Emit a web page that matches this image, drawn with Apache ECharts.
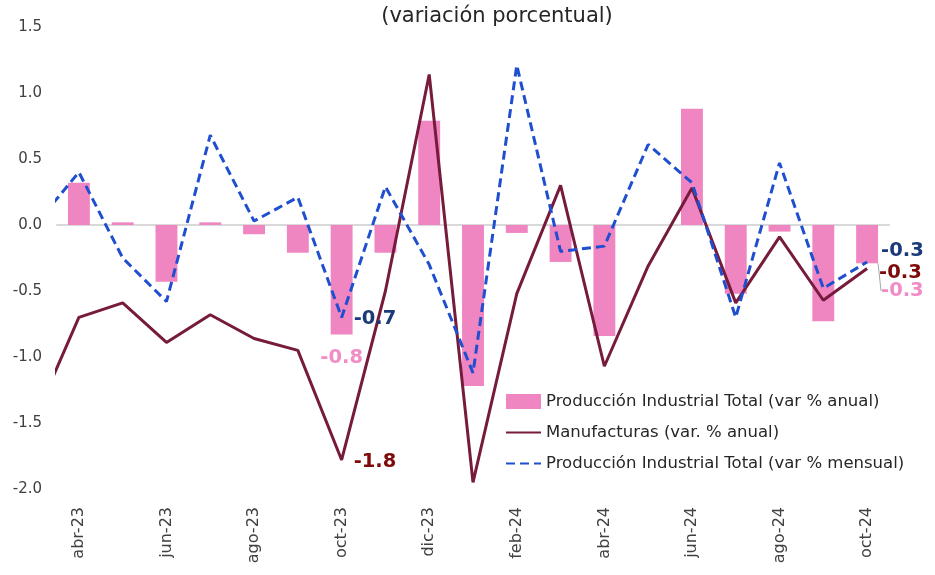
<!DOCTYPE html>
<html>
<head>
<meta charset="utf-8">
<script src="https://cdn.jsdelivr.net/npm/echarts@6/dist/echarts.min.js"></script>
<style>
  html, body { margin: 0; padding: 0; background: #fff; }
  #chart { width: 935px; height: 575px; }
</style>
</head>
<body>
<div id="chart"></div>
<script>
// meses: mar-23 solo sirve para el tramo inicial de las lineas (queda recortado)
const months = ["mar-23", "abr-23", "may-23", "jun-23", "jul-23", "ago-23", "sep-23", "oct-23", "nov-23", "dic-23",
    "ene-24", "feb-24", "mar-24", "abr-24", "may-24", "jun-24", "jul-24", "ago-24", "sep-24", "oct-24"];
const barMonths = months.slice(1);

// Produccion Industrial Total (var % anual), abr-23 .. oct-24
const totalAnual = [0.32, 0.02, -0.43, 0.02, -0.07, -0.21, -0.83, -0.21, 0.79, -1.22,
    -0.06, -0.28, -0.84, 0.0, 0.88, -0.52, -0.05, -0.73, -0.29];
// Manufacturas (var. % anual), mar-23 .. oct-24
const manufacturas = [-1.46, -0.70, -0.59, -0.89, -0.68, -0.86, -0.95, -1.78, -0.50, 1.14,
    -1.95, -0.52, 0.30, -1.07, -0.31, 0.28, -0.59, -0.09, -0.57, -0.33];
// Produccion Industrial Total (var % mensual), mar-23 .. oct-24
const totalMensual = [0.00, 0.40, -0.25, -0.58, 0.68, 0.03, 0.21, -0.70, 0.29, -0.30,
    -1.12, 1.21, -0.20, -0.16, 0.61, 0.32, -0.70, 0.47, -0.48, -0.28];

const yTicks = [-2.0, -1.5, -1.0, -0.5, 0.0, 0.5, 1.0, 1.5];

const font = "DejaVu Sans";
const pink = "#EF85C1";
const maroon = "#761B3B";
const blue = "#1F4FCF";

const labelBase = { show: true, fontFamily: font, fontWeight: "bold", fontSize: 19.5 };

function lineData(values, labelled) {
    return values.map(function (v, i) {
        const item = { value: [i, v] };
        if (labelled[months[i]]) item.label = Object.assign({}, labelBase, labelled[months[i]]);
        return item;
    });
}

const lastBar = barMonths.length - 1;
const barData = totalAnual.map(function (v, i) {
    const item = { value: v };
    if (barMonths[i] === "oct-23") {
        item.label = Object.assign({}, labelBase, { position: "bottom", distance: 13, color: "#F28CC6" });
    }
    if (i === lastBar) {
        item.label = Object.assign({}, labelBase, { position: "right", distance: 3, color: "#F28CC6" });
        item.labelLine = { show: true, lineStyle: { color: "#a6a6a6", width: 1 } };
    }
    return item;
});

const chart = echarts.init(document.getElementById("chart"));

const option = {
    animation: false,
    title: {
        text: "(variación porcentual)",
        left: 492,
        top: 1,
        textAlign: "center",
        textStyle: { fontFamily: font, fontWeight: "normal", fontSize: 21, color: "#262626" }
    },
    legend: {
        orient: "vertical",
        left: 500,
        top: 388,
        itemWidth: 35,
        itemHeight: 15,
        itemGap: 14,
        textStyle: { fontFamily: font, fontSize: 16.5, color: "#262626" },
        data: [
            { name: "Producción Industrial Total (var % anual)", icon: "rect" },
            { name: "Manufacturas (var. % anual)", itemStyle: { opacity: 0 } },
            { name: "Producción Industrial Total (var % mensual)", itemStyle: { opacity: 0 } }
        ]
    },
    grid: { left: 57, right: 46, top: 27, bottom: 86, outerBoundsMode: "none" },
    xAxis: [
        {
            type: "category",
            position: "bottom",
            data: barMonths,
            axisLine: { show: false, onZero: false },
            axisTick: { show: false },
            axisLabel: {
                interval: 1,
                rotate: 90,
                margin: 18,
                fontFamily: font,
                fontSize: 16,
                color: "#404040"
            },
            splitLine: { show: false }
        },
        {
            type: "value",
            position: "bottom",
            min: 0.5,
            max: 19.5,
            axisLine: { show: true, onZero: true, lineStyle: { color: "#d9d9d9", width: 2 } },
            axisTick: { show: false },
            axisLabel: { show: false },
            splitLine: { show: false }
        }
    ],
    yAxis: {
        type: "value",
        min: yTicks[0],
        max: yTicks[yTicks.length - 1],
        interval: 0.5,
        axisLine: { show: false },
        axisTick: { show: false },
        splitLine: { show: false },
        axisLabel: {
            margin: 15,
            fontFamily: font,
            fontSize: 15,
            color: "#404040",
            formatter: function (v) { return v.toFixed(1); }
        }
    },
    series: [
        {
            name: "Producción Industrial Total (var % anual)",
            type: "bar",
            xAxisIndex: 0,
            barWidth: "50%",
            itemStyle: { color: pink },
            label: { formatter: function (p) { return p.value.toFixed(1); } },
            labelLayout: function (p) {
                if (p.dataIndex === lastBar) return { dy: 47 };
                return {};
            },
            data: barData
        },
        {
            name: "Manufacturas (var. % anual)",
            type: "line",
            xAxisIndex: 1,
            symbol: "circle",
            symbolSize: 0,
            showSymbol: true,
            lineStyle: { color: maroon, width: 3 },
            itemStyle: { color: maroon },
            label: { formatter: function (p) { return p.value[1].toFixed(1); } },
            data: lineData(manufacturas, {
                "oct-23": { position: "right", distance: 12, offset: [0, 2], color: "#7F0A0A" },
                "oct-24": { position: "right", distance: 12, offset: [0, 4], color: "#7F0A0A" }
            })
        },
        {
            name: "Producción Industrial Total (var % mensual)",
            type: "line",
            xAxisIndex: 1,
            symbol: "circle",
            symbolSize: 0,
            showSymbol: true,
            lineStyle: { color: blue, width: 3, type: [9, 5] },
            itemStyle: { color: blue },
            label: { formatter: function (p) { return p.value[1].toFixed(1); } },
            data: lineData(totalMensual, {
                "oct-23": { position: "right", distance: 12, offset: [0, 2], color: "#1B3A7A" },
                "oct-24": { position: "right", distance: 14, offset: [0, -11], color: "#1B3A7A" }
            })
        }
    ]
};

chart.setOption(option);
</script>
</body>
</html>
